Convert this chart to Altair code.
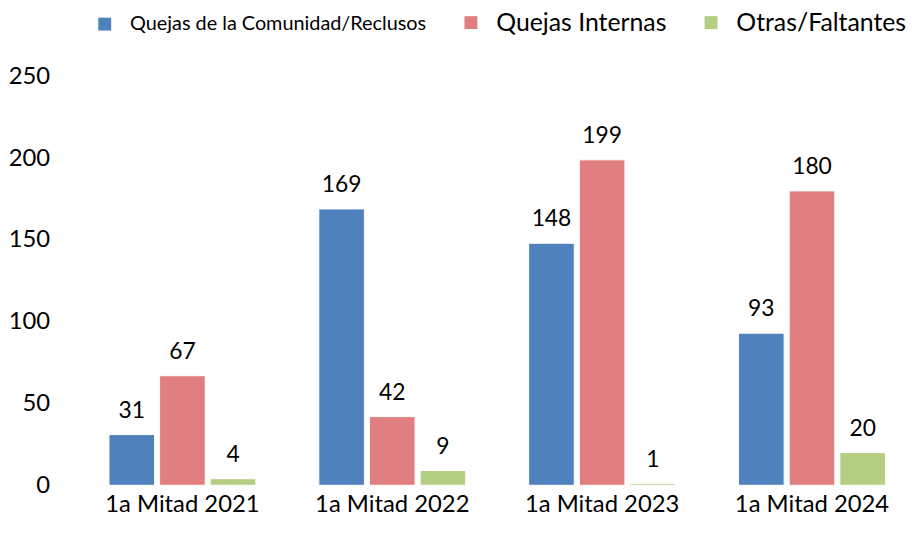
import altair as alt
import pandas as pd

periods = ["1a Mitad 2021", "1a Mitad 2022", "1a Mitad 2023", "1a Mitad 2024"]
series = ["Quejas de la Comunidad/Reclusos", "Quejas Internas", "Otras/Faltantes"]
comunidad = [31, 169, 148, 93]
internas = [67, 42, 199, 180]
otras = [4, 9, 1, 20]
colors = ["#4F81BD", "#E07E80", "#B4CE82"]
y_ticks = [0, 50, 100, 150, 200, 250]

rows = []
for i, p in enumerate(periods):
    for s, vals in zip(series, [comunidad, internas, otras]):
        rows.append({"period": p, "series": s, "value": vals[i]})
df = pd.DataFrame(rows)

FONT = "Lato"

base = alt.Chart(df).encode(
    x=alt.X(
        "period:N",
        sort=periods,
        scale=alt.Scale(paddingInner=0.3, paddingOuter=0.117),
        axis=alt.Axis(
            title=None, labelAngle=0, domain=False, ticks=False,
            labelPadding=7, labelFontSize=24, labelColor="#000000", labelFont=FONT,
        ),
    ),
    xOffset=alt.XOffset("series:N", sort=series, scale=alt.Scale(paddingInner=0.1, paddingOuter=0)),
    y=alt.Y(
        "value:Q",
        scale=alt.Scale(domain=[0, 250], nice=False),
        axis=alt.Axis(
            title=None, values=y_ticks, grid=False, domain=False, ticks=False,
            labelPadding=35, labelFontSize=24, labelColor="#000000", labelFont=FONT,
        ),
    ),
)

bars = base.mark_bar(stroke="white", strokeWidth=1).encode(
    color=alt.Color(
        "series:N",
        sort=series,
        scale=alt.Scale(domain=series, range=colors),
        legend=alt.Legend(
            title=None,
            orient="none",
            legendX=8,
            legendY=-67,
            direction="horizontal",
            symbolType="square",
            symbolSize=169,
            symbolStrokeWidth=0,
            labelFont=FONT,
            labelFontSize={"expr": "datum.label == 'Quejas de la Comunidad/Reclusos' ? 20 : 25"},
            labelColor="#000000",
            labelOffset=13,
            columnPadding=32,
            labelLimit=400,
        ),
    )
)

labels = base.mark_text(
    dy=-17, baseline="alphabetic", fontSize=23, font=FONT, color="#000000"
).encode(text="value:Q")

chart = (
    (bars + labels)
    .properties(width=832, height=412, padding={"left": 0, "top": 0, "right": 0, "bottom": 0})
    .configure_view(stroke=None)
)

chart.save("out.html", embed_options={"renderer": "svg", "actions": False})
